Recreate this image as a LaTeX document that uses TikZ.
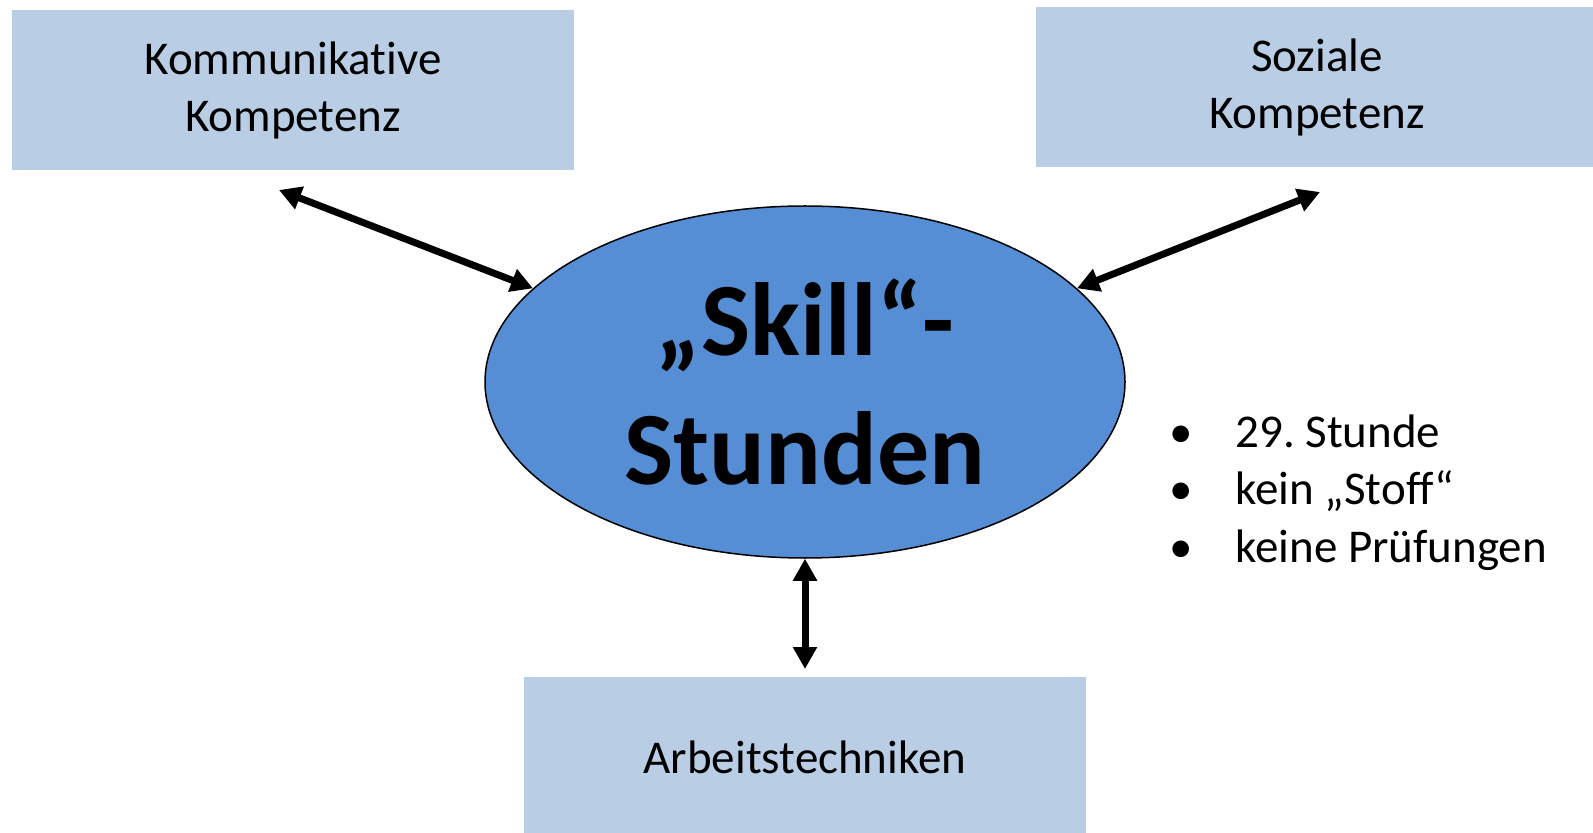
\documentclass[tikz,border=0pt]{standalone}
\usepackage{fontspec}
\setmainfont{Carlito}[Ligatures={NoCommon}, RawFeature={-liga;-clig;-dlig}]
\usetikzlibrary{shapes.geometric,arrows.meta}

\definecolor{boxblue}{HTML}{B9CDE5}
\definecolor{ellblue}{HTML}{558ED5}

\newcommand{\punkt}{\makebox[33pt][l]{•}}
\frenchspacing

\tikzset{
  kbox/.style={fill=boxblue, minimum width=281pt, minimum height=80pt, inner sep=0pt,
    align=center, font=\fontsize{23.5pt}{28.5pt}\selectfont},
  pfeil/.style={<->, line width=3.5pt},
}

\begin{document}
\begin{tikzpicture}[>={Triangle[length=11pt,width=11.5pt]}, x=.5pt, y=-.5pt]
    \useasboundingbox (0,0) rectangle (1593,833);
    
    \node[kbox] (komm) at (293,90) {Kommunikative\\Kompetenz};
    \node[kbox] (sozi) at (1317,87) {Soziale\\Kompetenz};
    \node[kbox] (arbt) at (805,757) {Arbeitstechniken};
    
    \node[ellipse, draw, line width=.75pt, fill=ellblue, minimum width=320pt, minimum height=176pt,
      inner sep=0pt, align=center, font=\bfseries\fontsize{52pt}{64.5pt}\selectfont]
      (skill) at (805,382) {„Skill“-\\Stunden};
    
    \node[anchor=base west, align=left, inner sep=0pt, font=\fontsize{23.5pt}{28.75pt}\selectfont]
      (liste) at (1169,562) {\punkt 29. Stunde\\\punkt kein „Stoff“\\\punkt keine Prüfungen};
    
    \coordinate (komm-end) at (279,190);
    \coordinate (sozi-end) at (1320,192);
    \coordinate (arbt-end) at (805,669);
    
    \draw[pfeil] (komm-end) -- (skill.161);
    \draw[pfeil] (sozi-end) -- (skill.19);
    \draw[pfeil] (skill.south) -- (arbt-end);
    
\end{tikzpicture}
\end{document}
